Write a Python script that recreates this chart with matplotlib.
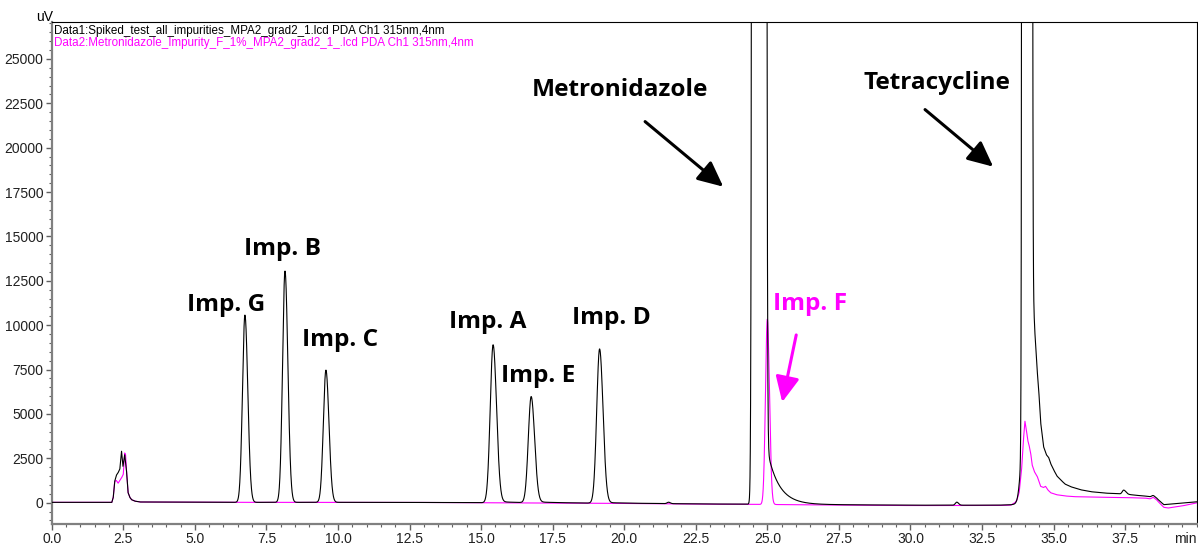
import numpy as np
import matplotlib.pyplot as plt
from matplotlib.ticker import MultipleLocator, FormatStrFormatter

# retention time grid (min)
t = np.linspace(0.0, 40.0, 8001)

# Data1 - spiked test solution (black): peak table
spk_rt = [6.75, 8.15, 9.58, 15.42, 16.75, 19.14, 21.55, 24.72, 31.62, 33.95, 34.07, 37.45, 38.48]
spk_h = [10550, 13030, 7450, 8900, 5980, 8690, 80, 1e8, 170, 3500, 1e8, 230, 110]
spk_sl = [0.085, 0.085, 0.09, 0.10, 0.10, 0.10, 0.05, 0.069, 0.05, 0.10, 0.047, 0.05, 0.05]
spk_sr = [0.10, 0.10, 0.105, 0.12, 0.12, 0.12, 0.06, 0.0667, 0.06, 0.10, 0.049, 0.08, 0.06]
spk_tail = [0, 0, 0, 80, 60, 40, 0, 6120, 0, 0, 0, 0, 0]
spk_tau = [1, 1, 1, 0.8, 1.0, 1.2, 1, 0.4, 1, 1, 1, 1, 1]

# Data1 baseline / solvent front / tetracycline tail
spk_bt = [0.0, 2.10, 2.15, 2.20, 2.26, 2.32, 2.38, 2.44, 2.49, 2.55, 2.61, 2.67, 2.73,
          2.79, 2.90, 3.08, 6.0, 12.0, 15.0, 20.0, 22.5, 25.0, 28.0, 30.0, 33.0, 33.5,
          34.0, 34.27, 34.35, 34.43, 34.48, 34.55, 34.65, 34.75, 34.83, 34.90, 35.0,
          35.12, 35.24, 35.40, 35.60, 35.94, 36.3, 36.8, 37.2, 37.7, 38.0, 38.3, 38.6,
          38.85, 39.2, 40.0]
spk_by = [20, 20, 300, 1200, 1550, 1690, 1900, 2900, 2050, 2700, 1860, 560, 300,
          170, 90, 40, 20, 20, 0, -40, -70, -90, -120, -140, -140, -120,
          0, 12000, 9500, 7400, 6380, 4510, 3160, 2700, 2540, 2200, 1860,
          1500, 1300, 1050, 900, 730, 620, 540, 510, 450, 400, 360, 250,
          -110, -60, 50]

# Data2 - impurity F reference (magenta): peak table
imf_rt = [25.00, 38.48]
imf_h = [10440, 110]
imf_sl = [0.065, 0.05]
imf_sr = [0.075, 0.06]
imf_tail = [0, 0]
imf_tau = [1, 1]

imf_bt = [0.0, 2.10, 2.15, 2.20, 2.26, 2.32, 2.38, 2.44, 2.50, 2.55, 2.58, 2.61, 2.67,
          2.73, 2.79, 2.90, 3.08, 6.0, 12.0, 15.0, 20.0, 22.5, 25.0, 28.0, 30.0, 33.0,
          33.5, 33.65, 33.72, 33.80, 33.88, 33.94, 34.0, 34.05, 34.10, 34.14, 34.20,
          34.25, 34.33, 34.43, 34.55, 34.65, 34.72, 34.80, 34.90, 35.1, 35.4, 35.7,
          36.5, 37.5, 38.2, 38.6, 38.85, 39.0, 39.5, 40.0]
imf_by = [20, 20, 300, 1200, 1250, 1100, 1250, 1400, 1600, 2800, 2700, 1860, 560,
          300, 170, 90, 40, 20, 20, 0, -40, -80, -100, -140, -160, -160,
          -140, 0, 150, 600, 1800, 3400, 4590, 4100, 3500, 3270, 2800,
          2140, 1750, 1480, 920, 860, 920, 720, 560, 450, 380, 340,
          310, 290, 260, 150, -260, -300, -180, -10]

ytick_vals = np.arange(0, 25001, 2500)
xtick_vals = np.arange(0, 37.6, 2.5)


def trace(rt, h, sl, sr, tail, tau, bt, by):
    y = np.interp(t, bt, by)
    for r, a, s1, s2, b, k in zip(rt, h, sl, sr, tail, tau):
        d = t - r
        s = np.where(d < 0, s1, s2)
        g = np.exp(-0.5 * (d / s) ** 2)
        y = y + a * g
        if b:
            dd = np.clip(d, 0, None)
            y = y + b * np.exp(-dd / k) * (1 - np.exp(-0.5 * (dd / s2) ** 2))
    return y


y_spk = trace(spk_rt, spk_h, spk_sl, spk_sr, spk_tail, spk_tau, spk_bt, spk_by)
y_imf = trace(imf_rt, imf_h, imf_sl, imf_sr, imf_tail, imf_tau, imf_bt, imf_by)

plt.rcParams['font.family'] = ['Liberation Sans', 'DejaVu Sans']
fig = plt.figure(figsize=(11.98, 5.48), dpi=100)
ax = fig.add_axes([0.04316, 0.0438, 0.95575, 0.9166])

ax.plot(t, y_imf, color='#ff00ff', lw=0.8, zorder=2)
ax.plot(t, y_spk, color='black', lw=0.8, zorder=3)

ax.set_xlim(0, 40)
ax.set_ylim(-1200, 27100)
ax.set_xticks(xtick_vals)
ax.xaxis.set_major_formatter(FormatStrFormatter('%.1f'))
ax.xaxis.set_minor_locator(MultipleLocator(0.5))
ax.set_yticks(ytick_vals)
ax.yaxis.set_minor_locator(MultipleLocator(500))

for side in ('left', 'bottom'):
    ax.spines[side].set_color('#808080')
    ax.spines[side].set_linewidth(1.6)
for side in ('top', 'right'):
    ax.spines[side].set_color('black')
    ax.spines[side].set_linewidth(0.8)
ax.tick_params(which='both', direction='out', color='#606060', labelsize=10,
               labelcolor='#202020')
ax.tick_params(which='major', length=4, width=1, pad=2.0)
ax.tick_params(which='minor', length=2.2, width=0.8)

fig.text(44.5 / 1198, 1 - 21 / 548, 'uV', ha='center', va='baseline', fontsize=10)
fig.text(1197 / 1198, 1 - 543 / 548, 'min', ha='right', va='baseline', fontsize=10,
         color='#202020')

ax.text(0.002, 0.9765, 'Data1:Spiked_test_all_impurities_MPA2_grad2_1.lcd PDA Ch1 315nm,4nm',
        transform=ax.transAxes, fontsize=8.4, va='baseline', color='black')
ax.text(0.002, 0.9516, 'Data2:Metronidazole_Impurity_F_1%_MPA2_grad2_1_.lcd PDA Ch1 315nm,4nm',
        transform=ax.transAxes, fontsize=8.4, va='baseline', color='#ff00ff')

lab = dict(fontsize=17.6, fontweight='bold', family='Open Sans', ha='center', va='baseline')
ax.text(6.09, 10806, 'Imp. G', **lab)
ax.text(8.08, 13966, 'Imp. B', **lab)
ax.text(10.07, 8832, 'Imp. C', **lab)
ax.text(15.24, 9847, 'Imp. A', **lab)
ax.text(16.99, 6800, 'Imp. E', **lab)
ax.text(19.54, 10073, 'Imp. D', **lab)
ax.text(19.86, 22939, 'Metronidazole', **lab)
ax.text(30.93, 23334, 'Tetracycline', **lab)
ax.text(26.5, 10863, 'Imp. F', color='#ff00ff', **lab)

arw = '-|>,head_length=0.7,head_width=0.33'
ax.annotate('', xy=(23.46, 17804), xytext=(20.73, 21472),
            arrowprops=dict(arrowstyle=arw, color='black', lw=2.2,
                            mutation_scale=22, shrinkA=0, shrinkB=0))
ax.annotate('', xy=(32.89, 18932), xytext=(30.51, 22149),
            arrowprops=dict(arrowstyle=arw, color='black', lw=2.2,
                            mutation_scale=22, shrinkA=0, shrinkB=0))
ax.annotate('', xy=(25.52, 5671), xytext=(26.01, 9452),
            arrowprops=dict(arrowstyle=arw, color='#ff00ff', lw=2.2,
                            mutation_scale=22, shrinkA=0, shrinkB=0))

fig.savefig('out.png', dpi=100)
